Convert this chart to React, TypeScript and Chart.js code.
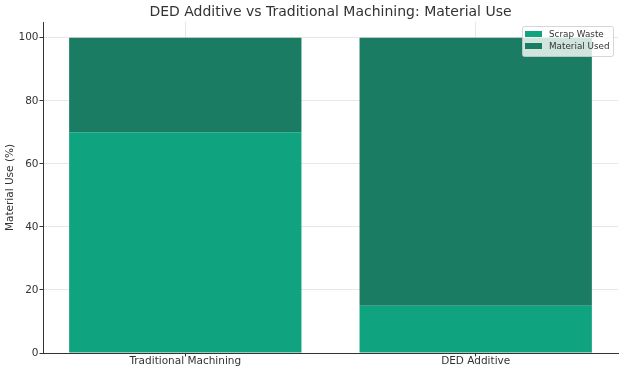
import React, { useEffect, useRef } from "react";
import { Chart, registerables } from "chart.js";

Chart.register(...registerables);

const categories = ["Traditional Machining", "DED Additive"];
const scrapWaste = [70, 15];
const materialUsed = [30, 85];
const yTicks = [0, 20, 40, 60, 80, 100];
const seriesNames = ["Scrap Waste", "Material Used"];
const colors = ["#10a37f", "#1a7c62"];
const titleText = "DED Additive vs Traditional Machining: Material Use";
const yTitle = "Material Use (%)";

const FONT = "'DejaVu Sans', sans-serif";

const overlayPlugin = {
  id: "overlay",
  afterDraw(chart: any) {
    const { ctx, chartArea } = chart;
    ctx.save();
    ctx.fillStyle = "#333333";
    ctx.font = `14px ${FONT}`;
    ctx.textAlign = "center";
    ctx.textBaseline = "middle";
    ctx.fillText(titleText, (chartArea.left + chartArea.right) / 2, 12.5);
    const bx = 522, by = 26, bw = 91, bh = 30;
    ctx.fillStyle = "rgba(255,255,255,0.8)";
    ctx.strokeStyle = "rgba(204,204,204,0.8)";
    ctx.lineWidth = 1;
    ctx.beginPath();
    (ctx as any).roundRect(bx + 0.5, by + 0.5, bw, bh, 2);
    ctx.fill();
    ctx.stroke();
    ctx.font = `8.8px ${FONT}`;
    ctx.textAlign = "left";
    seriesNames.forEach((name, i) => {
      const y = by + 8 + i * 12;
      ctx.fillStyle = colors[i];
      ctx.fillRect(bx + 3, y - 3, 17, 6);
      ctx.fillStyle = "#333333";
      ctx.fillText(name, bx + 27, y + 0.5);
    });
    ctx.restore();
  },
};

export default function App() {
  const ref = useRef<HTMLCanvasElement>(null);
  useEffect(() => {
    if (!ref.current) return;
    const chart = new Chart(ref.current, {
      type: "bar",
      data: {
        datasets: [
          {
            label: seriesNames[0],
            data: scrapWaste.map((v, i) => ({ x: i, y: v })),
            backgroundColor: colors[0],
            borderWidth: 0,
          },
          {
            label: seriesNames[1],
            data: materialUsed.map((v, i) => ({ x: i, y: v })),
            backgroundColor: colors[1],
            borderWidth: 0,
          },
        ],
      },
      options: {
        animation: false,
        responsive: false,
        devicePixelRatio: 1,
        layout: { padding: { top: 22, right: 6, left: 0, bottom: 0 } },
        datasets: { bar: { barPercentage: 0.8, categoryPercentage: 1 } },
        plugins: { legend: { display: false }, title: { display: false }, tooltip: { enabled: false } },
        scales: {
          x: {
            type: "linear",
            stacked: true,
            offset: false,
            min: -0.49,
            max: 1.49,
            z: 1,
            afterBuildTicks: (s: any) => { s.ticks = categories.map((_, i) => ({ value: i })); },
            grid: {
              offset: false,
              color: "rgba(176,176,176,0.3)",
              tickColor: "#333333",
              tickLength: 3.5,
              lineWidth: 1,
            },
            border: { color: "#333333", width: 1 },
            ticks: {
              color: "#333333",
              font: { family: FONT, size: 10.5, lineHeight: 1 },
              padding: 0,
              maxRotation: 0,
              autoSkip: false,
              callback: (v: any) => categories[v] ?? "",
            },
            afterFit: (s: any) => { s.height = 19; },
          },
          y: {
            stacked: true,
            z: 1,
            min: 0,
            max: 105,
            afterBuildTicks: (s: any) => { s.ticks = yTicks.map((v) => ({ value: v })); },
            grid: {
              color: "rgba(176,176,176,0.3)",
              tickColor: "#333333",
              tickLength: 3.5,
              lineWidth: 1,
            },
            border: { color: "#333333", width: 1 },
            ticks: { color: "#333333", font: { family: FONT, size: 10.5 }, padding: 1 },
            title: {
              display: true,
              text: yTitle,
              color: "#333333",
              font: { family: FONT, size: 10.5 },
              padding: { top: 4, bottom: 0 },
            },
            afterFit: (s: any) => { s.width = 43; },
          },
        },
      },
      plugins: [overlayPlugin],
    });
    return () => chart.destroy();
  }, []);
  return (
    <div style={{ position: "fixed", left: 0, top: 0, width: 624, height: 372, background: "#fff" }}>
      <canvas ref={ref} width={624} height={372} style={{ width: 624, height: 372 }} />
    </div>
  );
}
